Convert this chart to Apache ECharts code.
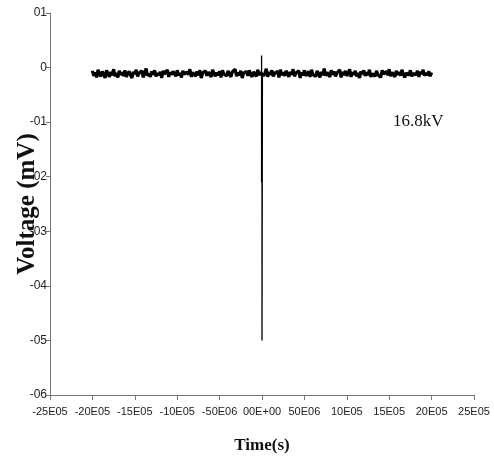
<!DOCTYPE html>
<html>
<head>
<meta charset="utf-8">
<script src="https://cdn.jsdelivr.net/npm/echarts@6/dist/echarts.min.js"></script>
<style>
  html, body { margin: 0; padding: 0; background: #fff; }
  #main { width: 494px; height: 462px; }
</style>
</head>
<body>
<div id="main"></div>
<script>
// tick labels as they appear in the picture
var xTickLabels = ['-25E05', '-20E05', '-15E05', '-10E05', '-50E06', '00E+00', '50E06', '10E05', '15E05', '20E05', '25E05'];
var yTickLabels = ['-06', '-05', '-04', '-03', '-02', '-01', '0', '01'];

// sampled trace: start time, sample step (s), voltage (mV)
var startTime = -2.0e-5;
var sampleStep = 1.6667e-7;
var noiseValues = [
  -0.006, -0.015, -0.009, -0.018, -0.004, -0.012, -0.016, -0.007, -0.013, -0.019,
  -0.005, -0.011, -0.017, -0.008, -0.014, -0.003, -0.016, -0.010, -0.018, -0.006,
  -0.013, -0.009, -0.015, -0.005, -0.017, -0.011, -0.007, -0.014, -0.019, -0.008,
  -0.012, -0.004, -0.016, -0.010, -0.013, -0.006, -0.018, -0.009, -0.002, -0.015,
  -0.011, -0.017, -0.007, -0.013, -0.005, -0.016, -0.010, -0.014, -0.008, -0.019,
  -0.006, -0.012, -0.015, -0.004, -0.017, -0.009, -0.013, -0.007, -0.011, -0.016,
  -0.005, -0.014, -0.010, -0.018, -0.006, -0.012, -0.015, -0.008, -0.013, -0.003,
  -0.017, -0.009, -0.011, -0.016, -0.007, -0.014, -0.005, -0.019, -0.010, -0.012,
  -0.006, -0.015, -0.008, -0.013, -0.017, -0.004, -0.011, -0.016, -0.009, -0.014,
  -0.007, -0.018, -0.005, -0.012, -0.010, -0.015, -0.006, -0.013, -0.017, -0.008,
  -0.011, -0.003, -0.016, -0.009, -0.014, -0.006, -0.019, -0.010, -0.012, -0.007,
  -0.015, -0.005, -0.013, -0.017, -0.008, -0.011, -0.016, -0.004, -0.014, -0.009,
  -0.006,
  -0.015, -0.011, -0.002, -0.017, -0.008, -0.013, -0.005, -0.016, -0.010, -0.012,
  -0.007, -0.018, -0.004, -0.014, -0.009, -0.015, -0.006, -0.011, -0.017, -0.008,
  -0.013, -0.003, -0.016, -0.010, -0.012, -0.006, -0.019, -0.009, -0.014, -0.005,
  -0.015, -0.011, -0.007, -0.017, -0.004, -0.013, -0.010, -0.016, -0.006, -0.012,
  -0.018, -0.008, -0.014, -0.002, -0.015, -0.009, -0.011, -0.017, -0.005, -0.013,
  -0.007, -0.016, -0.010, -0.012, -0.004, -0.018, -0.008, -0.014, -0.006, -0.015,
  -0.011, -0.003, -0.017, -0.009, -0.013, -0.006, -0.016, -0.010, -0.019, -0.007,
  -0.012, -0.005, -0.015, -0.009, -0.014, -0.004, -0.017, -0.011, -0.008, -0.016,
  -0.006, -0.013, -0.010, -0.018, -0.005, -0.012, -0.015, -0.007, -0.014, -0.003,
  -0.016, -0.009, -0.011, -0.017, -0.006, -0.013, -0.008, -0.015, -0.004, -0.012,
  -0.018, -0.010, -0.007, -0.014, -0.005, -0.016, -0.011, -0.009, -0.013, -0.006,
  -0.017, -0.008, -0.012, -0.004, -0.015, -0.010, -0.014, -0.007, -0.016, -0.009
];
// discharge pulse around t = 0 (time s, voltage mV)
var pulseTimes = [-0.5e-7, -0.5e-7, -0.5e-7, 0.5e-7, 0.5e-7, 0, 0, 0];
var pulseValues = [-0.010, 0.022, -0.21, -0.21, -0.012, -0.012, -0.50, -0.010];

var noiseData = [];
for (var i = 0; i < noiseValues.length; i++) {
    noiseData.push([startTime + i * sampleStep, noiseValues[i]]);
}
var pulseData = [];
for (var j = 0; j < pulseValues.length; j++) {
    pulseData.push([pulseTimes[j], pulseValues[j]]);
}

var labelFont = '"Liberation Sans Narrow", "Liberation Sans", Arial, sans-serif';
var serifFont = '"Liberation Serif", "Times New Roman", serif';

var option = {
    backgroundColor: '#fff',
    animation: false,
    grid: { left: 50, right: 20, top: 13, bottom: 67, containLabel: false, outerBoundsMode: 'none' },
    title: {
        text: '16.8kV',
        left: 388,
        top: 108,
        textStyle: { fontFamily: serifFont, fontSize: 17, fontWeight: 'normal', color: '#111' }
    },
    xAxis: {
        type: 'value',
        min: -2.5e-5,
        max: 2.5e-5,
        interval: 5e-6,
        name: 'Time(s)',
        nameLocation: 'middle',
        nameGap: 42,
        nameMoveOverlap: false,
        nameTextStyle: { fontFamily: serifFont, fontSize: 17, fontWeight: 'bold', color: '#111' },
        splitLine: { show: false },
        axisLine: { onZero: false, lineStyle: { color: '#777', width: 1 } },
        axisTick: { show: true, length: 5, lineStyle: { color: '#777' } },
        axisLabel: {
            margin: 11,
            fontFamily: labelFont,
            fontSize: 11,
            color: '#222',
            hideOverlap: false,
            formatter: function(v) {
                return xTickLabels[Math.round(v / 5e-6) + 5];
            }
        }
    },
    yAxis: {
        type: 'value',
        min: -0.6,
        max: 0.1,
        interval: 0.1,
        name: 'Voltage (mV)',
        nameLocation: 'middle',
        nameGap: 10,
        nameMoveOverlap: false,
        nameTextStyle: { fontFamily: serifFont, fontSize: 25, fontWeight: 'bold', color: '#111' },
        splitLine: { show: false },
        axisLine: { show: true, onZero: false, lineStyle: { color: '#777', width: 1 } },
        axisTick: { show: true, length: 4, lineStyle: { color: '#777' } },
        axisLabel: {
            margin: 3,
            fontFamily: labelFont,
            fontSize: 12,
            color: '#222',
            formatter: function(v) {
                return yTickLabels[Math.round(v * 10) + 6];
            }
        }
    },
    series: [{
        type: 'line',
        data: noiseData,
        showSymbol: false,
        lineStyle: { color: '#000', width: 3.2 }
    }, {
        type: 'line',
        data: pulseData,
        showSymbol: false,
        lineStyle: { color: '#000', width: 1.3 }
    }]
};

var myChart = echarts.init(document.getElementById('main'));
myChart.setOption(option);
</script>
</body>
</html>
